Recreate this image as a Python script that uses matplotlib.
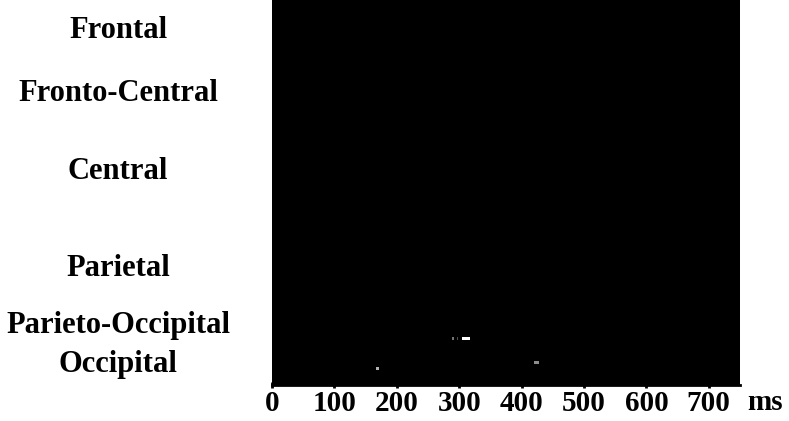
import numpy as np
import matplotlib
matplotlib.use("Agg")
import matplotlib.pyplot as plt

# Scalp regions and the channel row at which each region label sits
regions = ["Frontal", "Fronto-Central", "Central", "Parietal",
           "Parieto-Occipital", "Occipital"]
region_rows = [9, 30, 56, 88, 107, 120]

n_channels = 128
time_step_ms = 2
time_end_ms = 750

# Sparse significant clusters: channel row, start ms, end ms, strength
cluster_rows = [112, 112, 112, 120, 122]
cluster_start = [288, 296, 304, 420, 166]
cluster_end = [292, 298, 318, 428, 171]
cluster_value = [0.45, 0.3, 1.0, 0.55, 0.7]

tick_ms = [0, 100, 200, 300, 400, 500, 600, 700]

times = np.arange(0, time_end_ms, time_step_ms)
stat = np.zeros((n_channels, times.size))
for r, t0, t1, v in zip(cluster_rows, cluster_start, cluster_end, cluster_value):
    stat[r, (times >= t0) & (times < t1)] = v

plt.rcParams["font.family"] = ["Liberation Serif", "DejaVu Serif"]
plt.rcParams["font.weight"] = "bold"

W, H = 789, 421
fig = plt.figure(figsize=(W / 100, H / 100), dpi=100)
left_px, right_px, bottom_px = 272, 740, 385
ax = fig.add_axes([left_px / W, (H - bottom_px) / H,
                   (right_px - left_px) / W, bottom_px / H])

ax.imshow(stat, cmap="gray", vmin=0, vmax=1, aspect="auto",
          interpolation="nearest",
          extent=[0, time_end_ms, n_channels, 0])
ax.set_xlim(0, time_end_ms)
ax.set_ylim(n_channels, 0)

for s in ["top", "right", "left"]:
    ax.spines[s].set_visible(False)
ax.spines["bottom"].set_linewidth(2)

ax.set_xticks(tick_ms)
ax.set_xticklabels([str(t) for t in tick_ms], fontsize=21, fontweight="bold")
ax.tick_params(axis="x", direction="inout", length=5, width=2, pad=1)

ax.set_yticks(region_rows)
ax.set_yticklabels(regions, fontsize=22, fontweight="bold", ha="center")
ax.tick_params(axis="y", length=0, pad=(left_px - 118) * 72 / 100)

fig.text(765 / W, (H - 403) / H, "ms", fontsize=21, fontweight="bold",
         ha="center", va="center")

fig.savefig("out.png", dpi=100)
